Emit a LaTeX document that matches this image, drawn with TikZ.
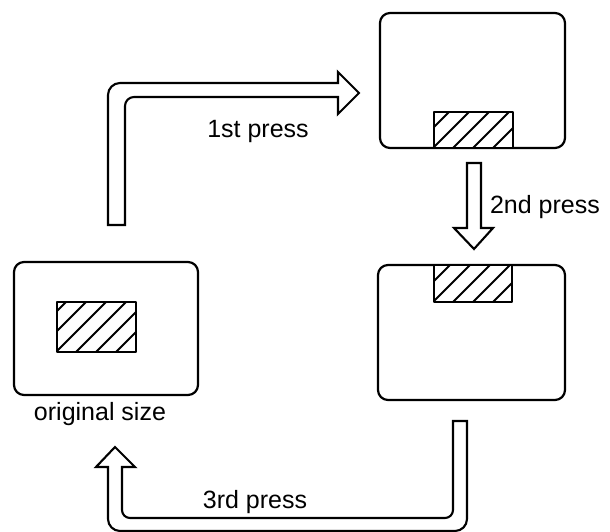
\documentclass[tikz,border=0pt]{standalone}
\usepackage{fontspec}
\setmainfont{Liberation Sans}
\begin{document}
\begin{tikzpicture}[x=1pt,y=-1pt,
  line width=2pt, line join=round,
  screen/.style={draw, rounded corners=10pt, line width=2.2pt},
  hatchbox/.style={draw, line width=2.2pt},
  hollow/.style={draw, line width=2.1pt, line join=miter},
  lbl/.style={font=\fontsize{25}{28}\selectfont, inner sep=0pt, anchor=base}]
\useasboundingbox (0,0) rectangle (610,532);

% screens
\draw[screen] (14,262) rectangle (198,395);
\draw[screen] (380,13) rectangle (565,148);
\draw[screen] (378,265) rectangle (565,400);

% hatched areas
\newcommand{\hatchrect}[4]{%
  \begin{scope}
    \clip (#1,#2) rectangle (#3,#4);
    \foreach \k in {-41,-21,-1,19,39,59,79}
      \draw[line width=2.1pt] ({#1+\k},#4) -- ({#1+\k+80},{#4-80});
  \end{scope}
  \draw[hatchbox, fill=none] (#1,#2) rectangle (#3,#4);}
\fill[white] (57,302) rectangle (136,352);
\hatchrect{57}{302}{136}{352}
\fill[white] (434,112) rectangle (513,148);
\hatchrect{434}{112}{513}{148}
\fill[white] (434,265) rectangle (512,302);
\hatchrect{434}{265}{512}{302}

% 1st press arrow
\draw[hollow] (108,225) [rounded corners=12pt] -- (108,83) -- (180,83) [sharp corners] -- (338,83) -- (338,72) -- (359,93) -- (338,114) -- (338,97) [rounded corners=9pt] -- (125,97) -- (125,160) [sharp corners] -- (125,225) -- cycle;
\node[lbl] (p1) at (258,137) {1st press};

% 2nd press arrow
\draw[hollow] (467,163) -- (481,163) -- (481,228) -- (493,228) -- (474,249) -- (454,228) -- (467,228) -- cycle;
\node[lbl, anchor=base west] (p2) at (489,213) {2nd press};

% original size
\node[lbl] (orig) at (100,420) {original size};

% 3rd press arrow
\draw[hollow] (453,421) -- (467,421) [rounded corners=12pt] -- (467,531) -- (108,531) [sharp corners] -- (108,467) -- (96,467) -- (115,447) -- (135,467) -- (122,467) [rounded corners=8pt] -- (122,518) -- (453,518) [sharp corners] -- cycle;
\node[lbl] (p3) at (255,508) {3rd press};
\end{tikzpicture}
\end{document}
